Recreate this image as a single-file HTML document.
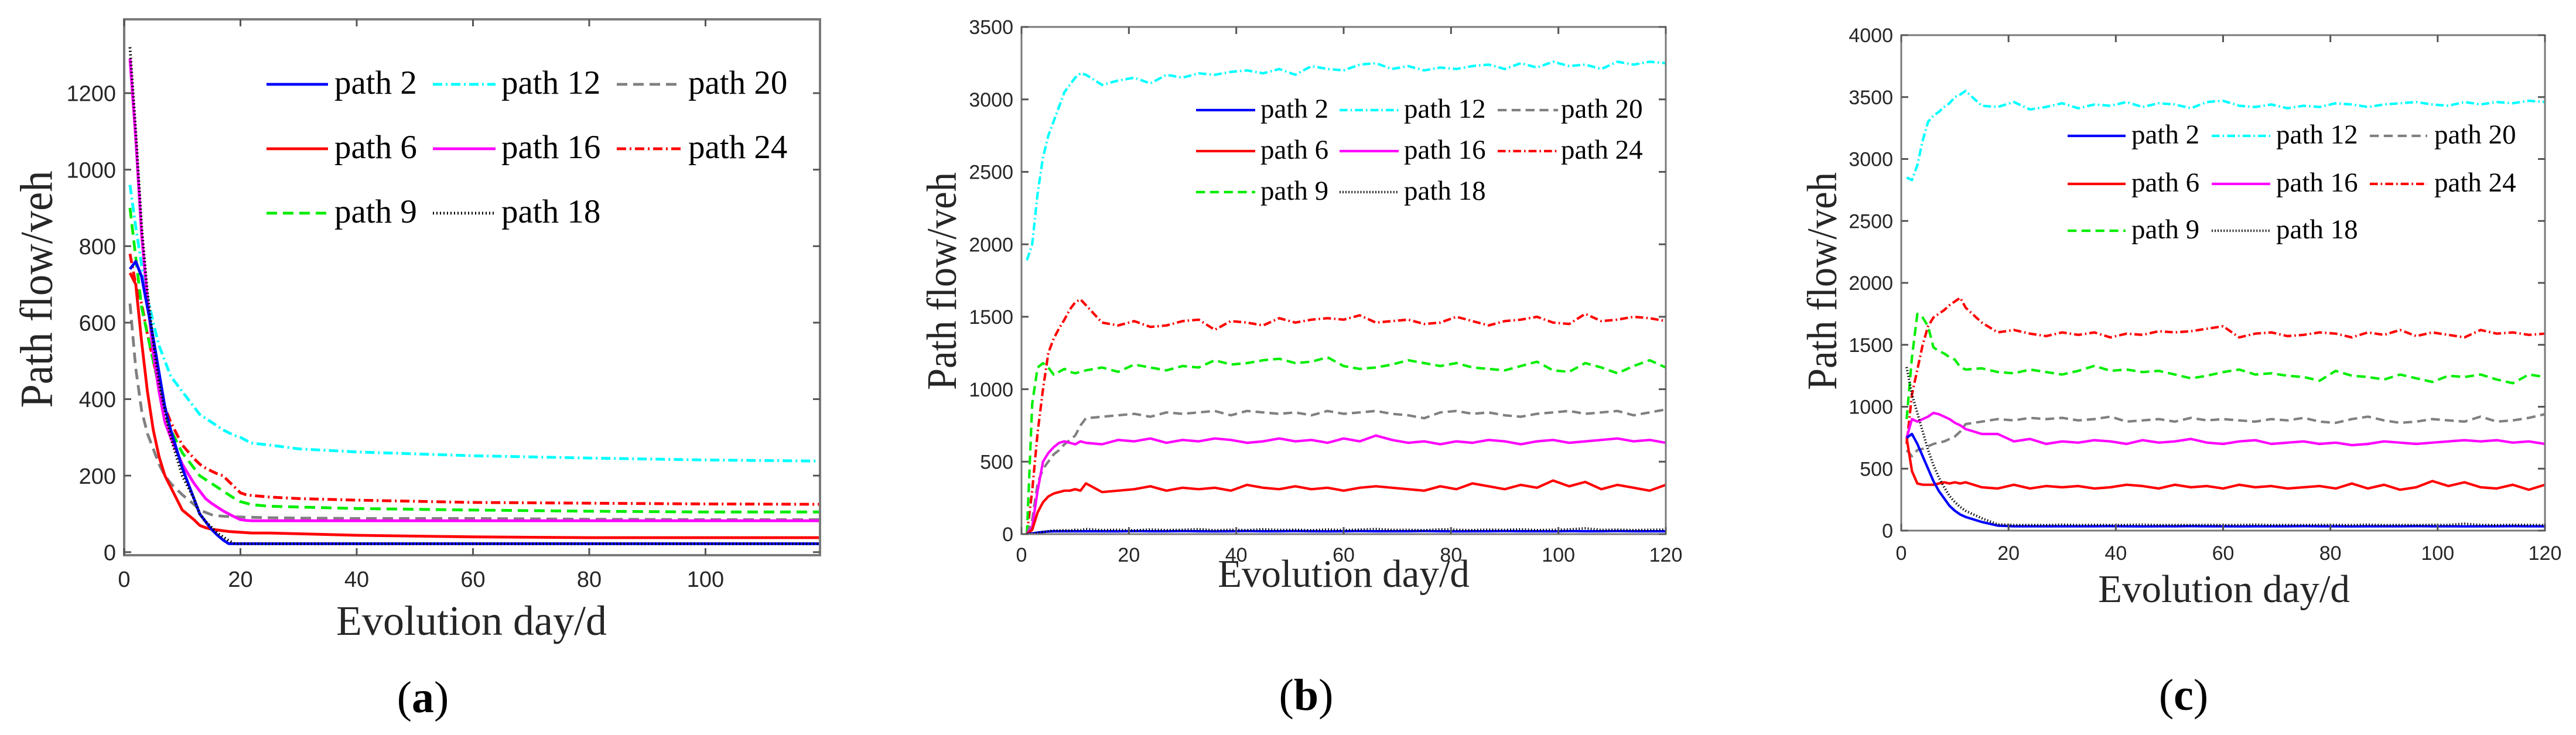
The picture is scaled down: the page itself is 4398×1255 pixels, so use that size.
<!DOCTYPE html>
<html><head><meta charset="utf-8"><style>
html,body{margin:0;padding:0;background:#fff;}
svg{display:block;}
</style></head><body>
<svg id="fig" xmlns="http://www.w3.org/2000/svg" width="4398" height="1255" viewBox="0 0 4398 1255">
<rect x="0" y="0" width="4398" height="1255" fill="#fff"/>
</svg>
<script>
// ---------- data: panel (a) ----------
const aDays   = [1,2,3,4,5,6,7,8,10,12,13,14,15,16,17,18,19,20,21,22,25,30,40,60,80,100,120];
const aPath2  = [740,760,720,640,560,470,380,320,220,140,100,80,60,45,32,22,22,22,22,22,22,22,22,22,22,22,22];
const aPath6  = [730,700,550,420,320,250,200,170,110,85,70,64,60,58,56,54,53,52,51,50,50,48,44,40,38,38,38];
const aPath9  = [900,770,640,570,500,430,360,320,260,220,200,190,180,170,160,150,140,132,128,124,120,118,114,110,107,105,105];
const aPath12 = [960,850,750,670,600,540,500,460,420,380,360,350,340,330,320,312,305,300,292,285,280,270,262,252,246,241,238];
const aPath16 = [1290,1080,830,660,520,420,340,300,230,180,160,140,128,118,108,100,92,85,83,82,82,82,82,82,82,82,82];
const aPath18 = [1320,1100,850,680,550,440,370,300,200,140,100,80,65,50,40,30,22,22,22,22,22,22,22,22,22,22,22];
const aPath20 = [650,480,370,310,270,230,200,180,150,125,110,104,98,95,94,93,92,92,91,91,90,89,88,88,86,85,85];
const aPath24 = [780,700,650,570,500,440,380,340,280,245,230,220,212,205,200,185,170,155,150,148,144,140,136,130,128,126,125];

// ---------- data: panel (b) ----------
const bDays   = [1,2,3,4,5,6,7,8,9,10,11,12,15,18,21,24,27,30,33,36,39,42,45,48,51,54,57,60,63,66,69,72,75,78,81,84,87,90,93,96,99,102,105,108,111,114,117,120];
const bPath2  = [0,5,10,15,18,20,20,20,20,20,20,20, 20,19,21,20,20,21,20,19,20,21,20,20, 21,20,19,20,21,20,20,20,21,20,19,20, 20,21,20,20,19,21,20,20,21,20,20,20];
const bPath6  = [0,30,150,220,260,280,290,300,300,310,300,350, 290,300,310,330,300,320, 310,320,300,340,320,310, 330,310,320,300,320,330, 320,310,300,330,310,350, 330,310,340,320,370,330, 360,310,340,320,300,340];
const bPath9  = [0,900,1150,1180,1150,1100,1120,1140,1120,1110,1120,1130, 1150,1120,1170,1150,1130,1160, 1150,1200,1170,1180,1200,1210, 1180,1190,1220,1160,1140,1150, 1170,1200,1180,1160,1180,1150, 1140,1130,1160,1190,1130,1120, 1180,1150,1110,1160,1200,1150];
const bPath12 = [1890,2000,2350,2600,2750,2850,2950,3050,3100,3150,3180,3170, 3100,3130,3150,3110,3170,3150, 3180,3170,3190,3200,3180,3210, 3170,3230,3210,3200,3240,3250, 3210,3230,3200,3220,3210,3230, 3240,3210,3250,3220,3260,3230, 3240,3210,3260,3240,3260,3250];
const bPath16 = [0,50,300,500,560,600,630,640,630,620,640,630, 620,650,640,660,630,650, 640,660,650,630,640,660, 640,650,630,660,640,680, 650,630,640,620,640,630, 650,640,620,640,650,630, 640,650,660,640,650,630];
const bPath18 = [0,3,8,15,20,25,25,28,25,30,28,35, 28,30,26,32,28,30, 34,27,30,28,33,29, 30,27,32,28,31,35, 29,30,27,33,30,28, 31,29,33,28,30,32, 40,29,31,28,30,32];
const bPath20 = [0,100,350,450,500,550,580,620,650,680,750,800, 810,820,830,810,840,830, 840,850,820,850,840,830, 840,820,850,830,840,850, 830,820,800,840,850,830, 840,820,810,830,840,850, 830,840,850,820,840,860];
const bPath24 = [0,300,700,1000,1250,1350,1420,1480,1550,1600,1620,1580, 1460,1440,1470,1430,1440,1470, 1480,1410,1470,1460,1440,1490, 1460,1480,1490,1480,1510,1460, 1470,1480,1450,1460,1500,1470, 1440,1470,1480,1500,1460,1450, 1520,1470,1480,1500,1490,1470];

// ---------- data: panel (c) ----------
const cDays   = [1,2,3,4,5,6,7,8,9,10,11,12,15,18,21,24,27,30,33,36,39,42,45,48,51,54,57,60,63,66,69,72,75,78,81,84,87,90,93,96,99,102,105,108,111,114,117,120];
const cPath2  = [750,780,700,600,500,400,320,260,200,160,130,110, 70,40,35,35,35,35, 35,35,36,35,34,35, 35,36,35,35,34,35, 35,35,36,35,35,34, 35,35,35,36,35,35, 34,35,35,36,35,35];
const cPath6  = [750,480,380,370,370,370,380,390,380,390,380,390, 350,340,370,340,360,350, 360,340,350,370,360,340, 370,350,360,340,370,350, 360,340,350,360,340,380, 340,370,330,350,400,360, 390,350,340,370,330,370];
const cPath9  = [900,1400,1750,1720,1650,1480,1450,1430,1400,1380,1320,1300, 1310,1280,1270,1300,1280,1260, 1290,1330,1290,1300,1280,1290, 1260,1230,1250,1280,1300,1260, 1270,1250,1240,1210,1290,1250, 1240,1220,1260,1230,1200,1250, 1240,1260,1220,1190,1260,1240];
const cPath12 = [2850,2830,2950,3150,3300,3350,3380,3420,3450,3500,3520,3550, 3430,3420,3460,3400,3420,3450, 3410,3440,3430,3460,3420,3450, 3440,3410,3460,3470,3430,3420, 3440,3410,3430,3420,3450,3440, 3420,3440,3450,3460,3440,3430, 3460,3440,3460,3450,3470,3460];
const cPath16 = [750,900,880,900,920,950,940,920,900,870,850,820, 780,780,720,740,700,720, 710,730,720,700,730,710, 720,740,710,700,720,730, 700,710,720,700,710,690, 700,720,710,700,710,720, 730,720,730,710,720,700];
const cPath18 = [1320,1100,950,800,650,530,430,350,280,230,190,160, 100,50,45,46,45,48, 45,47,45,46,48,45, 46,45,47,45,46,48, 45,46,45,47,46,45, 48,45,46,45,47,46, 55,46,45,47,46,45];
const cPath20 = [650,600,650,660,680,700,710,720,740,760,800,860, 880,900,890,910,900,910, 890,900,920,880,890,900, 880,910,890,900,890,880, 900,890,910,880,870,900, 920,890,870,880,900,890, 880,920,880,890,910,940];
const cPath24 = [700,1100,1300,1500,1650,1720,1750,1780,1820,1850,1880,1800, 1680,1600,1620,1590,1570,1600, 1580,1600,1560,1590,1580,1610, 1600,1610,1630,1650,1560,1590, 1600,1570,1580,1600,1590,1560, 1600,1580,1620,1570,1600,1580, 1560,1620,1590,1600,1580,1590];

const aXTicks = [0,20,40,60,80,100];
const aYTicks = [0,200,400,600,800,1000,1200];
const bXTicks = [0,20,40,60,80,100,120];
const bYTicks = [0,500,1000,1500,2000,2500,3000,3500];
const cXTicks = [0,20,40,60,80,100,120];
const cYTicks = [0,500,1000,1500,2000,2500,3000,3500,4000];
const seriesNames = ["path 2","path 12","path 20","path 6","path 16","path 24","path 9","path 18"];

// ---------- styles ----------
const STY = {
  "path 2":  {c:"#0000ff", d:null},
  "path 6":  {c:"#ff0000", d:null},
  "path 9":  {c:"#00ee00", d:"dash"},
  "path 12": {c:"#00ffff", d:"dashdot"},
  "path 16": {c:"#ff00ff", d:null},
  "path 18": {c:"#000000", d:"dot"},
  "path 20": {c:"#808080", d:"dash"},
  "path 24": {c:"#ff0000", d:"dashdot"}
};
function dashArr(d,s){ if(d==="dash")return (18*s)+","+(10*s); if(d==="dashdot")return (16*s)+","+(6*s)+","+(3*s)+","+(6*s); if(d==="dot")return (2*s)+","+(4*s); return null; }

const NS="http://www.w3.org/2000/svg";
const svg=document.getElementById("fig");
function mk(tag,attrs,parent){const e=document.createElementNS(NS,tag);for(const k in attrs)e.setAttribute(k,attrs[k]);(parent||svg).appendChild(e);return e;}

function drawPanel(P){
  const g=mk("g",{});
  
  
  const sx=v=>P.L+(v-P.x0)/(P.x1-P.x0)*(P.R-P.L);
  const sy=v=>P.B-(v-P.y0)/(P.y1-P.y0)*(P.B-P.T);
  const clipId="clip-"+P.id;
  const cp=mk("clipPath",{id:clipId},g);
  mk("rect",{x:P.L,y:P.T,width:P.R-P.L,height:P.B-P.T},cp);
  const sg=mk("g",{"clip-path":"url(#"+clipId+")"},g);
  P.series.forEach(s=>{
    const st=STY[s.name];
    let d="";
    const n=Math.min(P.days.length,s.vals.length);
    for(let i=0;i<n;i++){d+=(i?"L":"M")+sx(P.days[i]).toFixed(1)+","+sy(s.vals[i]).toFixed(1);}
    const p=mk("path",{d:d,fill:"none",stroke:st.c,"stroke-width":P.lw,"stroke-linejoin":"round"},sg);
    const da=dashArr(st.d,P.ds); if(da)p.setAttribute("stroke-dasharray",da);
    
    
  });
  const box=mk("rect",{x:P.L,y:P.T,width:P.R-P.L,height:P.B-P.T,fill:"none",stroke:"#7a7a7a","stroke-width":P.bw},g);
  
  
  P.xt.forEach(v=>{
    const x=sx(v);
    mk("line",{x1:x,y1:P.B,x2:x,y2:P.B-12,stroke:"#555","stroke-width":3},g);
    mk("line",{x1:x,y1:P.T,x2:x,y2:P.T+12,stroke:"#555","stroke-width":3},g);
    const t=mk("text",{x:x,y:P.xtb,"font-family":"Liberation Sans, sans-serif","font-size":P.tf,fill:"#262626","text-anchor":"middle"},g);
    t.textContent=v;
    
    
  });
  P.yt.forEach(v=>{
    const y=sy(v);
    mk("line",{x1:P.L,y1:y,x2:P.L+12,y2:y,stroke:"#555","stroke-width":3},g);
    mk("line",{x1:P.R,y1:y,x2:P.R-12,y2:y,stroke:"#555","stroke-width":3},g);
    const t=mk("text",{x:P.ytx,y:y+P.tf*0.36,"font-family":"Liberation Sans, sans-serif","font-size":P.tf,fill:"#262626","text-anchor":"end"},g);
    t.textContent=v;
    
    
  });
  const yl=mk("text",{x:0,y:0,transform:"translate("+P.ylx+","+P.yly+") rotate(-90)","font-family":"Liberation Serif, serif","font-size":P.ylf,fill:"#262626","text-anchor":"middle","dominant-baseline":"central",textLength:P.yll,lengthAdjust:"spacingAndGlyphs"},g);
  yl.textContent="Path flow/veh";
  
  
  const xl=mk("text",{x:P.xlx,y:P.xly,"font-family":"Liberation Serif, serif","font-size":P.lf,fill:"#262626","text-anchor":"middle"},g);
  xl.textContent="Evolution day/d";
  
  
  const lg=mk("g",{},g);
  
  
  seriesNames.forEach((nm,i)=>{
    const r=Math.floor(i/3), c=i%3;
    const st=STY[nm];
    const y=P.legRows[r];
    const col=P.legCols[c];
    const ln=mk("line",{x1:col[0],y1:y,x2:col[1],y2:y,stroke:st.c,"stroke-width":P.lw},lg);
    const da=dashArr(st.d,P.ds); if(da)ln.setAttribute("stroke-dasharray",da);
    const t=mk("text",{x:col[2],y:y+P.legF*0.28,"font-family":"Liberation Serif, serif","font-size":P.legF,fill:"#000"},lg);
    t.textContent=nm;
    
    
  });
  const pl=mk("text",{x:P.plx,y:P.ply,"font-family":"Liberation Serif, serif","font-size":76,fill:"#000","text-anchor":"middle"},g);
  pl.innerHTML='(<tspan font-weight="bold">'+P.id+'</tspan>)';
  
  
}

drawPanel({id:"a",days:aDays,L:212,R:1400,T:33,B:948,x0:0,x1:119.7,y0:-8,y1:1393,lw:4.8,ds:1,bw:4,tf:38,
  xt:aXTicks,yt:aYTicks,xtb:1002,ytx:198,lf:72,ylf:78,yll:405,ylx:62,yly:494,xlx:805,xly:1084,
  legRows:[144,254,364],legCols:[[455,560,571],[739,846,856],[1053,1162,1175]],legF:57,plx:722,ply:1216,
  series:[{name:"path 12",vals:aPath12},{name:"path 24",vals:aPath24},{name:"path 9",vals:aPath9},{name:"path 20",vals:aPath20},{name:"path 16",vals:aPath16},{name:"path 6",vals:aPath6},{name:"path 2",vals:aPath2},{name:"path 18",vals:aPath18}]});

drawPanel({id:"b",days:bDays,L:1744,R:2844,T:46,B:912,x0:0,x1:120,y0:0,y1:3500,lw:4.2,ds:0.85,bw:3,tf:34,
  xt:bXTicks,yt:bYTicks,xtb:959,ytx:1730,lf:67,ylf:72,yll:372,ylx:1608,yly:480,xlx:2294,xly:1002,
  legRows:[188,258,328],legCols:[[2042,2143,2152],[2287,2388,2397],[2557,2660,2665]],legF:47,plx:2230,ply:1212,
  series:[{name:"path 12",vals:bPath12},{name:"path 24",vals:bPath24},{name:"path 9",vals:bPath9},{name:"path 20",vals:bPath20},{name:"path 16",vals:bPath16},{name:"path 6",vals:bPath6},{name:"path 2",vals:bPath2},{name:"path 18",vals:bPath18}]});

drawPanel({id:"c",days:cDays,L:3246,R:4345,T:60,B:906,x0:0,x1:120,y0:0,y1:4000,lw:4.2,ds:0.85,bw:3,tf:34,
  xt:cXTicks,yt:cYTicks,xtb:956,ytx:3232,lf:67,ylf:72,yll:372,ylx:3111,yly:480,xlx:3797,xly:1028,
  legRows:[232,314,394],legCols:[[3530,3629,3639],[3776,3876,3886],[4046,4144,4156]],legF:47,plx:3728,ply:1212,
  series:[{name:"path 12",vals:cPath12},{name:"path 24",vals:cPath24},{name:"path 9",vals:cPath9},{name:"path 20",vals:cPath20},{name:"path 16",vals:cPath16},{name:"path 6",vals:cPath6},{name:"path 2",vals:cPath2},{name:"path 18",vals:cPath18}]});
</script>
</body></html>
